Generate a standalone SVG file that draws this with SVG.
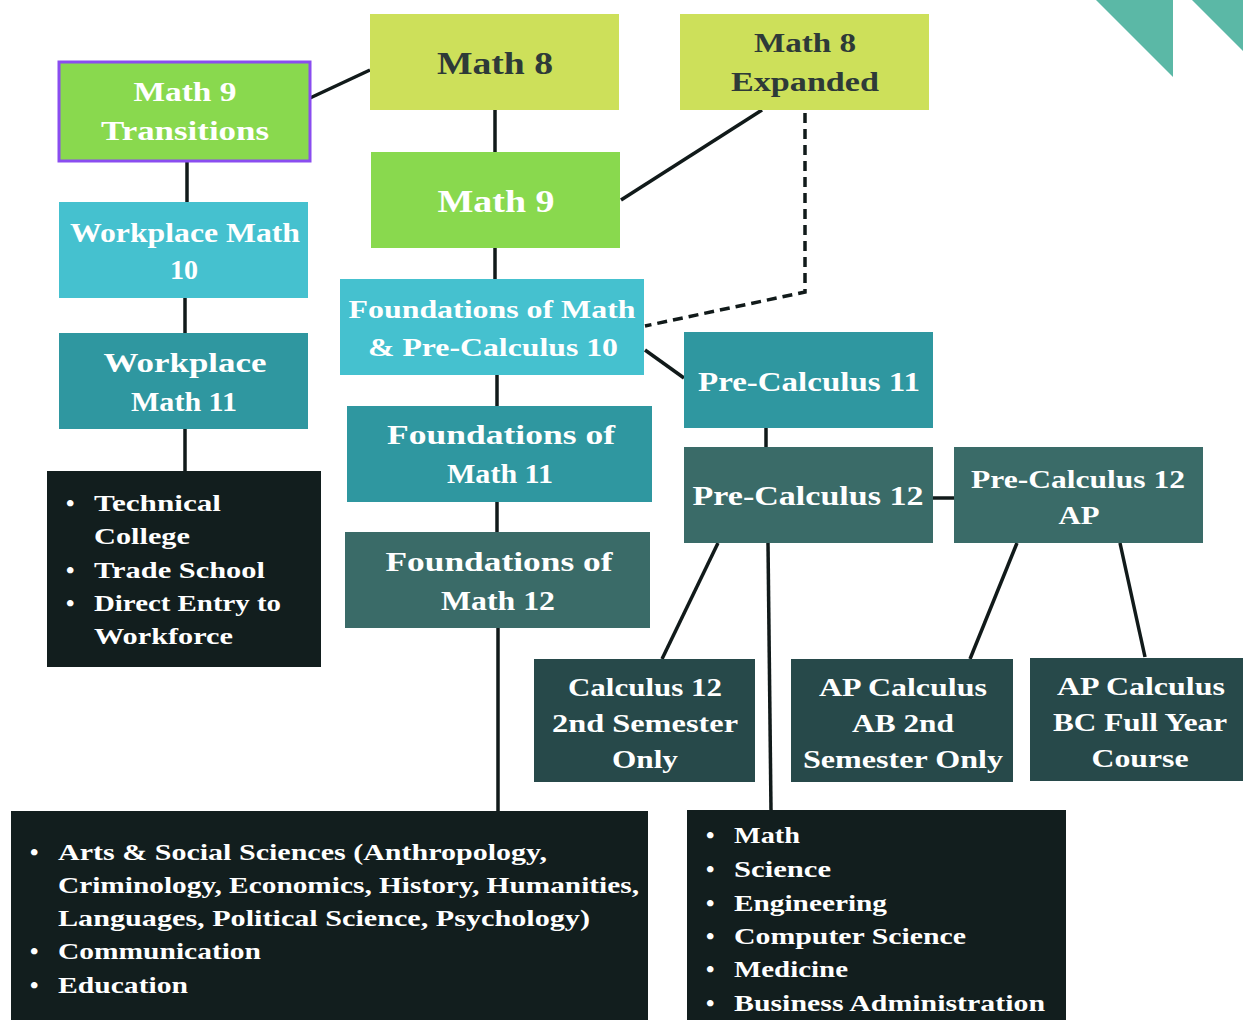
<svg xmlns="http://www.w3.org/2000/svg" width="1243" height="1020" viewBox="0 0 1243 1020">
<style>
text{font-family:"Liberation Serif","DejaVu Serif",serif;font-weight:bold;}
.t{fill:#ffffff;text-anchor:middle;}
.d{fill:#2e3a38;text-anchor:middle;}
.b{fill:#ffffff;}
.c{stroke:#111a1a;stroke-width:3.5;fill:none;}
.lime{fill:#cde05a;}
.green{fill:#89d94e;}
.cyan{fill:#45c1cf;}
.teal{fill:#2f97a0;}
.slate{fill:#3a6b68;}
.dark{fill:#27494a;}
.black{fill:#121e1e;}
</style>
<rect width="1243" height="1020" fill="#ffffff"/>
<polygon points="1096,0 1173,0 1173,77" fill="#5bb8a6"/>
<polygon points="1192,0 1243,0 1243,51" fill="#5bb8a6"/>
<g id="connectors">
<line class="c" x1="310" y1="98" x2="370" y2="70"/>
<line class="c" x1="187" y1="161" x2="187" y2="202"/>
<line class="c" x1="185" y1="298" x2="185" y2="333"/>
<line class="c" x1="185" y1="429" x2="185" y2="471"/>
<line class="c" x1="495" y1="110" x2="495" y2="152"/>
<line class="c" x1="762" y1="110" x2="621" y2="200"/>
<polyline class="c" points="805,113 805,292 645,326" stroke-dasharray="10,6"/>
<line class="c" x1="495" y1="248" x2="495" y2="279"/>
<line class="c" x1="645" y1="350" x2="684" y2="378"/>
<line class="c" x1="497" y1="375" x2="497" y2="406"/>
<line class="c" x1="497" y1="502" x2="497" y2="532"/>
<line class="c" x1="498" y1="628" x2="498" y2="811"/>
<line class="c" x1="766" y1="428" x2="766" y2="447"/>
<line class="c" x1="933" y1="498" x2="954" y2="498"/>
<line class="c" x1="718" y1="543" x2="662" y2="659"/>
<line class="c" x1="768" y1="543" x2="771" y2="810"/>
<line class="c" x1="1017" y1="543" x2="970" y2="659"/>
<line class="c" x1="1120" y1="543" x2="1145" y2="657"/>
</g>
<g id="math9transitions">
<rect class="green" x="59" y="62" width="251" height="99" stroke="#8a4df0" stroke-width="3"/>
<text class="t" x="185" y="101" font-size="28" textLength="103" lengthAdjust="spacingAndGlyphs">Math 9</text>
<text class="t" x="185" y="140" font-size="28" textLength="168" lengthAdjust="spacingAndGlyphs">Transitions</text>
</g>
<g id="math8">
<rect class="lime" x="370" y="14" width="249" height="96"/>
<text class="d" x="495" y="74" font-size="32" textLength="116" lengthAdjust="spacingAndGlyphs">Math 8</text>
</g>
<g id="math8expanded">
<rect class="lime" x="680" y="14" width="249" height="96"/>
<text class="d" x="805" y="52" font-size="28" textLength="102" lengthAdjust="spacingAndGlyphs">Math 8</text>
<text class="d" x="805" y="91" font-size="28" textLength="148" lengthAdjust="spacingAndGlyphs">Expanded</text>
</g>
<g id="math9">
<rect class="green" x="371" y="152" width="249" height="96"/>
<text class="t" x="496" y="212" font-size="32" textLength="117" lengthAdjust="spacingAndGlyphs">Math 9</text>
</g>
<g id="workplace10">
<rect class="cyan" x="59" y="202" width="249" height="96"/>
<text class="t" x="185" y="242" font-size="27" textLength="230" lengthAdjust="spacingAndGlyphs">Workplace Math</text>
<text class="t" x="184" y="279" font-size="27" textLength="28" lengthAdjust="spacingAndGlyphs">10</text>
</g>
<g id="fmpc10">
<rect class="cyan" x="340" y="279" width="304" height="96"/>
<text class="t" x="492" y="318" font-size="26" textLength="287" lengthAdjust="spacingAndGlyphs">Foundations of Math</text>
<text class="t" x="493" y="356" font-size="26" textLength="250" lengthAdjust="spacingAndGlyphs">&amp; Pre-Calculus 10</text>
</g>
<g id="workplace11">
<rect class="teal" x="59" y="333" width="249" height="96"/>
<text class="t" x="185" y="372" font-size="28" textLength="163" lengthAdjust="spacingAndGlyphs">Workplace</text>
<text class="t" x="184" y="411" font-size="28" textLength="106" lengthAdjust="spacingAndGlyphs">Math 11</text>
</g>
<g id="precalc11">
<rect class="teal" x="684" y="332" width="249" height="96"/>
<text class="t" x="809" y="391" font-size="28" textLength="222" lengthAdjust="spacingAndGlyphs">Pre-Calculus 11</text>
</g>
<g id="foundations11">
<rect class="teal" x="347" y="406" width="305" height="96"/>
<text class="t" x="501" y="444" font-size="28" textLength="228" lengthAdjust="spacingAndGlyphs">Foundations of</text>
<text class="t" x="500" y="483" font-size="28" textLength="106" lengthAdjust="spacingAndGlyphs">Math 11</text>
</g>
<g id="precalc12">
<rect class="slate" x="684" y="447" width="249" height="96"/>
<text class="t" x="808" y="505" font-size="28" textLength="231" lengthAdjust="spacingAndGlyphs">Pre-Calculus 12</text>
</g>
<g id="precalc12ap">
<rect class="slate" x="954" y="447" width="249" height="96"/>
<text class="t" x="1078" y="488" font-size="26" textLength="214" lengthAdjust="spacingAndGlyphs">Pre-Calculus 12</text>
<text class="t" x="1079" y="524" font-size="26" textLength="41" lengthAdjust="spacingAndGlyphs">AP</text>
</g>
<g id="foundations12">
<rect class="slate" x="345" y="532" width="305" height="96"/>
<text class="t" x="499" y="571" font-size="28" textLength="227" lengthAdjust="spacingAndGlyphs">Foundations of</text>
<text class="t" x="498" y="610" font-size="28" textLength="114" lengthAdjust="spacingAndGlyphs">Math 12</text>
</g>
<g id="calc12">
<rect class="dark" x="534" y="659" width="221" height="123"/>
<text class="t" x="645" y="696" font-size="26" textLength="154" lengthAdjust="spacingAndGlyphs">Calculus 12</text>
<text class="t" x="645" y="732" font-size="26" textLength="186" lengthAdjust="spacingAndGlyphs">2nd Semester</text>
<text class="t" x="645" y="768" font-size="26" textLength="66" lengthAdjust="spacingAndGlyphs">Only</text>
</g>
<g id="apab">
<rect class="dark" x="791" y="659" width="222" height="123"/>
<text class="t" x="903" y="696" font-size="26" textLength="168" lengthAdjust="spacingAndGlyphs">AP Calculus</text>
<text class="t" x="903" y="732" font-size="26" textLength="102" lengthAdjust="spacingAndGlyphs">AB 2nd</text>
<text class="t" x="903" y="768" font-size="26" textLength="200" lengthAdjust="spacingAndGlyphs">Semester Only</text>
</g>
<g id="apbc">
<rect class="dark" x="1030" y="658" width="213" height="123"/>
<text class="t" x="1141" y="695" font-size="26" textLength="168" lengthAdjust="spacingAndGlyphs">AP Calculus</text>
<text class="t" x="1140" y="731" font-size="26" textLength="174" lengthAdjust="spacingAndGlyphs">BC Full Year</text>
<text class="t" x="1140" y="767" font-size="26" textLength="97" lengthAdjust="spacingAndGlyphs">Course</text>
</g>
<g id="careers-workplace">
<rect class="black" x="47" y="471" width="274" height="196"/>
<g class="b" font-size="24">
<text x="66" y="511">•</text><text x="94" y="511" textLength="127" lengthAdjust="spacingAndGlyphs">Technical</text>
<text x="94" y="544" textLength="96" lengthAdjust="spacingAndGlyphs">College</text>
<text x="66" y="578">•</text><text x="94" y="578" textLength="171" lengthAdjust="spacingAndGlyphs">Trade School</text>
<text x="66" y="611">•</text><text x="94" y="611" textLength="187" lengthAdjust="spacingAndGlyphs">Direct Entry to</text>
<text x="94" y="644" textLength="139" lengthAdjust="spacingAndGlyphs">Workforce</text>
</g>
</g>
<g id="careers-foundations">
<rect class="black" x="11" y="811" width="637" height="209"/>
<g class="b" font-size="24">
<text x="30" y="860">•</text><text x="58" y="860" textLength="489" lengthAdjust="spacingAndGlyphs">Arts &amp; Social Sciences (Anthropology,</text>
<text x="58" y="893" textLength="581" lengthAdjust="spacingAndGlyphs">Criminology, Economics, History, Humanities,</text>
<text x="58" y="926" textLength="532" lengthAdjust="spacingAndGlyphs">Languages, Political Science, Psychology)</text>
<text x="30" y="959">•</text><text x="58" y="959" textLength="203" lengthAdjust="spacingAndGlyphs">Communication</text>
<text x="30" y="993">•</text><text x="58" y="993" textLength="130" lengthAdjust="spacingAndGlyphs">Education</text>
</g>
</g>
<g id="careers-precalc">
<rect class="black" x="687" y="810" width="379" height="210"/>
<g class="b" font-size="24">
<text x="706" y="843">•</text><text x="734" y="843" textLength="66" lengthAdjust="spacingAndGlyphs">Math</text>
<text x="706" y="877">•</text><text x="734" y="877" textLength="97" lengthAdjust="spacingAndGlyphs">Science</text>
<text x="706" y="911">•</text><text x="734" y="911" textLength="153" lengthAdjust="spacingAndGlyphs">Engineering</text>
<text x="706" y="944">•</text><text x="734" y="944" textLength="232" lengthAdjust="spacingAndGlyphs">Computer Science</text>
<text x="706" y="977">•</text><text x="734" y="977" textLength="114" lengthAdjust="spacingAndGlyphs">Medicine</text>
<text x="706" y="1011">•</text><text x="734" y="1011" textLength="311" lengthAdjust="spacingAndGlyphs">Business Administration</text>
</g>
</g>
</svg>
